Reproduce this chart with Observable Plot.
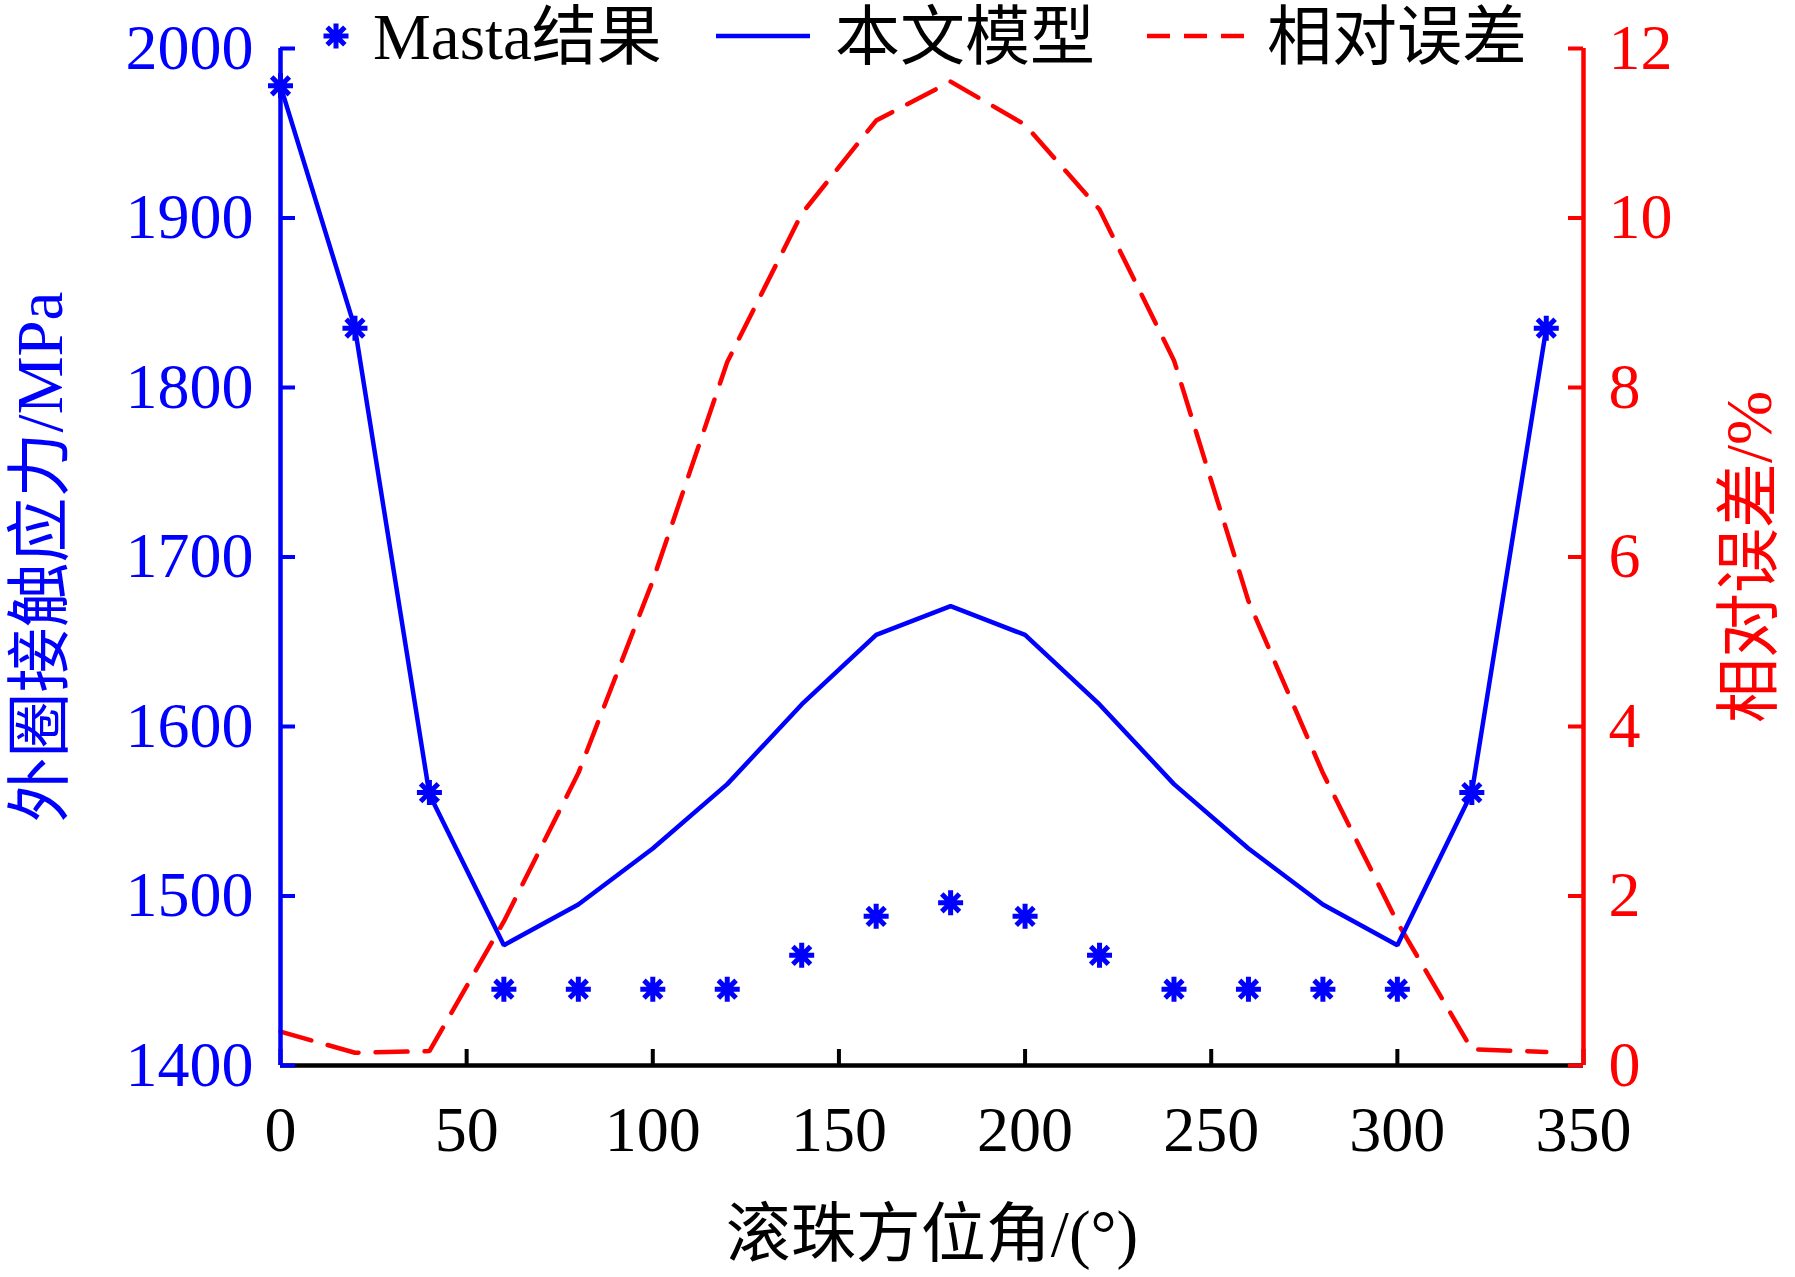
<!DOCTYPE html>
<html><head><meta charset="utf-8">
<script src="https://cdn.jsdelivr.net/npm/d3@7"></script>
<script src="https://cdn.jsdelivr.net/npm/@observablehq/plot@0.6"></script>
<style>
body{margin:0;background:#fff;}
#wrap{position:relative;width:1795px;height:1277px;font-family:"Liberation Serif","Noto Sans CJK SC",serif;}
.lg{position:absolute;top:4px;height:66px;line-height:66px;font-size:65px;color:#000;white-space:nowrap;}
.sw{position:absolute;}
</style></head><body><div id="wrap"></div>
<script>
// ---- data ----
const angles      = [0, 20, 40, 60, 80, 100, 120, 140, 160, 180, 200, 220, 240, 260, 280, 300, 320, 340];
const mastaStress = [1978, 1835, 1561, 1445, 1445, 1445, 1445, 1465, 1488, 1496, 1488, 1465, 1445, 1445, 1445, 1445, 1561, 1835];
const modelStress = [1978, 1835, 1560, 1471, 1495, 1528, 1566, 1613, 1654, 1671, 1654, 1613, 1566, 1528, 1495, 1471, 1561, 1835];
const relError    = [0.40, 0.15, 0.17, 1.70, 3.45, 5.72, 8.30, 10.05, 11.15, 11.61, 11.10, 10.10, 8.32, 5.48, 3.45, 1.69, 0.19, 0.16];
const xTicks      = [0, 50, 100, 150, 200, 250, 300, 350];
const stressTicks = [1400, 1500, 1600, 1700, 1800, 1900, 2000];
const errorTicks  = [0, 2, 4, 6, 8, 10, 12];
const legendLabels = ["Masta结果", "本文模型", "相对误差"];
const xLabel = "滚珠方位角/(°)";
const yLabelLeft = "外圈接触应力/MPa";
const yLabelRight = "相对误差/%";

// ---- layout ----
const W = 1795, H = 1277, ML = 280, MR = 212, MT = 48, MB = 212;
const PW = W - ML - MR, PH = H - MT - MB;
const BLUE = "#0000ff", RED = "#ff0000";
const FONT = "'Liberation Serif','Noto Sans CJK SC',serif";

// map error (0..12) onto the stress scale (1400..2000)
const errToY = e => 1400 + e * 50;
const yToErr = y => (y - 1400) / 50;

const masta = angles.map((a, i) => ({a, v: mastaStress[i]}));
const model = angles.map((a, i) => ({a, v: modelStress[i]}));
const err = angles.map((a, i) => ({a, v: errToY(relError[i])}));

const star8 = {
  draw(ctx, size) {
    const r = Math.sqrt(size / Math.PI), d = r * Math.SQRT1_2;
    ctx.moveTo(0, -r); ctx.lineTo(0, r);
    ctx.moveTo(-r, 0); ctx.lineTo(r, 0);
    ctx.moveTo(-d, -d); ctx.lineTo(d, d);
    ctx.moveTo(-d, d); ctx.lineTo(d, -d);
  }
};

const chart = Plot.plot({
  width: W, height: H,
  marginLeft: ML, marginRight: MR, marginTop: MT, marginBottom: MB,
  style: {fontFamily: FONT, fontSize: "64px", background: "white", overflow: "visible"},
  x: {domain: [0, 350]},
  y: {domain: [1400, 2000]},
  marks: [
    Plot.line(err, {x: "a", y: "v", stroke: RED, strokeWidth: 4.5, strokeDasharray: "32,17", strokeLinejoin: "miter"}),
    Plot.line(model, {x: "a", y: "v", stroke: BLUE, strokeWidth: 4.5, strokeLinejoin: "miter"}),
    Plot.dot(masta, {x: "a", y: "v", symbol: star8, r: 12.5, fill: "none", stroke: BLUE, strokeWidth: 5}),
    // x axis
    Plot.ruleY([1400], {stroke: "black", strokeWidth: 4.5}),
    Plot.tickX(xTicks, {x: d => d, stroke: "black", strokeWidth: 4, insetTop: PH - 16}),
    Plot.axisX({ticks: xTicks, tickSize: 0, tickPadding: 40, tickFormat: d => String(d), fill: "black", fontSize: 64, label: null}),
    // left axis
    Plot.ruleX([0], {stroke: BLUE, strokeWidth: 4.5}),
    Plot.tickY(stressTicks, {y: d => d, stroke: BLUE, strokeWidth: 4, insetRight: PW - 15}),
    Plot.axisY({anchor: "left", ticks: stressTicks, tickSize: 0, tickPadding: 27, tickFormat: d => String(d), fill: BLUE, fontSize: 64, label: null}),
    // right axis
    Plot.ruleX([350], {stroke: RED, strokeWidth: 4.5}),
    Plot.tickY(errorTicks.map(errToY), {y: d => d, stroke: RED, strokeWidth: 4, insetLeft: PW - 15}),
    Plot.axisY({anchor: "right", ticks: errorTicks.map(errToY), tickSize: 0, tickPadding: 25, tickFormat: d => String(yToErr(d)), fill: RED, fontSize: 64, label: null}),
    // axis titles
    Plot.text([xLabel], {frameAnchor: "bottom", dy: 190, fontSize: 65, fill: "black", textAnchor: "middle"}),
    Plot.text([yLabelLeft], {frameAnchor: "left", dx: -239, rotate: -90, fontSize: 65, fill: BLUE, textAnchor: "middle"}),
    Plot.text([yLabelRight], {frameAnchor: "right", dx: 167, rotate: -90, fontSize: 65, fill: RED, textAnchor: "middle"})
  ]
});

const wrap = document.getElementById("wrap");
wrap.appendChild(chart);

// ---- legend (overlay at top) ----
const lg = document.createElement("div");
lg.innerHTML = `
<svg class="sw" style="left:319px;top:19px" width="34" height="34" viewBox="-17 -17 34 34">
  <path d="M0,-12.5V12.5M-12.5,0H12.5M-8.84,-8.84L8.84,8.84M-8.84,8.84L8.84,-8.84" stroke="${BLUE}" stroke-width="5" fill="none"/>
</svg>
<div class="lg" style="left:373px">${legendLabels[0]}</div>
<svg class="sw" style="left:716px;top:26px" width="94" height="20">
  <line x1="0" y1="10" x2="94" y2="10" stroke="${BLUE}" stroke-width="4.5"/>
</svg>
<div class="lg" style="left:835px">${legendLabels[1]}</div>
<svg class="sw" style="left:1147px;top:26px" width="98" height="20">
  <line x1="0" y1="10" x2="98" y2="10" stroke="${RED}" stroke-width="4.5" stroke-dasharray="23,14"/>
</svg>
<div class="lg" style="left:1267px">${legendLabels[2]}</div>`;
wrap.appendChild(lg);
</script>
</body></html>
